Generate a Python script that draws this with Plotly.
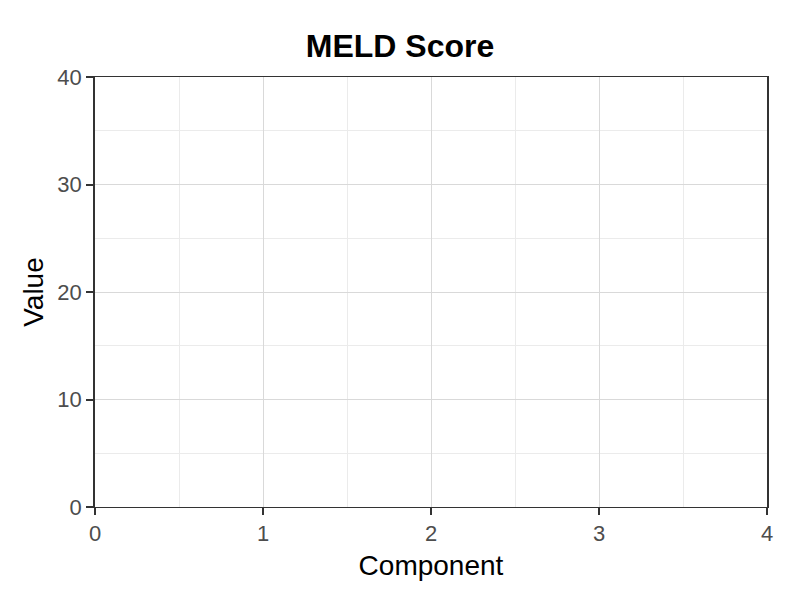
import plotly.graph_objects as go

# the reference chart has no marks drawn; keep the (empty) data as named lists
components = []
values = []

x_ticks = [0, 1, 2, 3, 4]
y_ticks = [0, 10, 20, 30, 40]

fig = go.Figure(go.Bar(x=components, y=values, marker_color="#3498db"))

FONT = "Liberation Sans, Arial, sans-serif"
axis_font = dict(family=FONT, size=22, color="#4d4d4d")

# page body has an 8px margin, so the figure is made 16px smaller than the window
fig.update_layout(
    width=784,
    height=584,
    title=dict(
        text="<b>MELD Score</b>",
        x=0.5,
        xanchor="center",
        y=0.935,
        yanchor="middle",
        font=dict(family=FONT, size=32, color="black"),
    ),
    paper_bgcolor="white",
    plot_bgcolor="white",
    margin=dict(l=87, r=25, t=69, b=85),
    showlegend=False,
    font=dict(family=FONT),
)

fig.update_xaxes(
    range=[0, 4],
    tickvals=x_ticks,
    tickfont=axis_font,
    title=dict(text="Component", font=dict(size=28, color="black"), standoff=9),
    showgrid=True,
    gridcolor="#d9d9d9",
    gridwidth=1,
    minor=dict(dtick=0.5, showgrid=True, gridcolor="#ebebeb", gridwidth=1),
    showline=True,
    linecolor="#333333",
    linewidth=1,
    mirror=True,
    ticks="outside",
    ticklen=7,
    tickwidth=2,
    tickcolor="#333333",
    zeroline=False,
)

fig.update_yaxes(
    range=[0, 40],
    tickvals=y_ticks,
    tickfont=axis_font,
    title=dict(text="Value", font=dict(size=28, color="black"), standoff=6),
    showgrid=True,
    gridcolor="#d9d9d9",
    gridwidth=1,
    minor=dict(dtick=5, showgrid=True, gridcolor="#ebebeb", gridwidth=1),
    showline=True,
    linecolor="#333333",
    linewidth=1.5,
    mirror=True,
    ticks="outside",
    ticklen=7,
    tickwidth=2,
    tickcolor="#333333",
    zeroline=True,
    zerolinecolor="#333333",
    zerolinewidth=2,
)

fig.write_html("out.html")
